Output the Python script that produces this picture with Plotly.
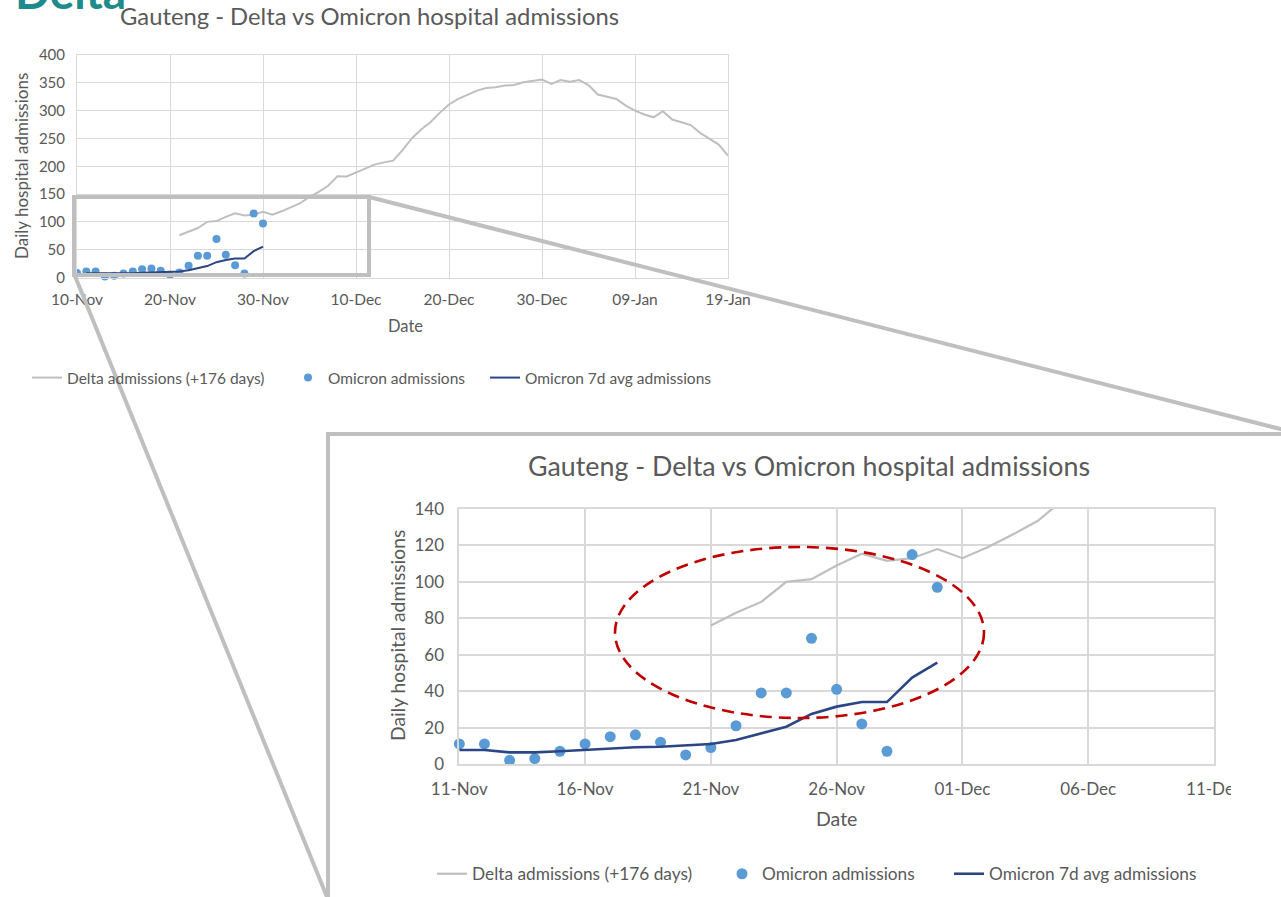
import pandas as pd
import plotly.graph_objects as go

W, H = 1281, 897

# Omicron daily hospital admissions, Gauteng
omicron_dates = pd.date_range("2021-11-10", "2021-11-30", freq="D")
omicron_daily = [8, 11, 11, 2, 3, 7, 11, 15, 16, 12, 5, 9, 21, 39, 39, 69, 41, 22, 7, 115, 97]

# Omicron 7-day average admissions
avg_dates = pd.date_range("2021-11-11", "2021-11-30", freq="D")
omicron_7d_avg = [7.7, 7.7, 6.4, 6.4, 7.0, 7.7, 8.6, 9.2, 9.5, 10.1, 11.0, 13.2,
                  16.8, 20.5, 27.5, 31.5, 34.0, 34.0, 47.4, 55.6]

# Delta wave admissions, shifted forward by 176 days
delta_dates = pd.date_range("2021-11-21", "2022-01-19", freq="D")
delta_shifted = [76, 83, 89, 100, 101.5, 109, 115.5, 111.5, 113, 118,
                 113, 119, 126, 133.5, 145, 154, 165, 182, 181.5, 189,
                 196, 203, 207, 210, 229, 250, 266, 279, 296, 311,
                 321, 329, 336, 340.5, 342, 345, 346, 351, 353.5, 356,
                 348, 355, 352, 355, 346, 329, 325, 321, 309, 300,
                 293, 288, 299, 284, 279, 274, 260, 250, 239, 219]

series_names = ["Delta admissions (+176 days)", "Omicron admissions", "Omicron 7d avg admissions"]
title_text = "Gauteng - Delta vs Omicron hospital admissions"

full_ticks = pd.date_range("2021-11-10", "2022-01-19", freq="10D")
zoom_ticks = pd.date_range("2021-11-11", "2021-12-11", freq="5D")
full_yticks = list(range(0, 401, 50))
zoom_yticks = list(range(0, 141, 20))

TEXT = "#595959"
GRID = "#d9d9d9"
GREY = "#bfbfbf"
DOT = "#5b9bd5"
NAVY = "#2b4585"
FONT = "Lato"


def fx(p):
    return p / W


def fy(p):
    return 1 - p / H


fig = go.Figure()

# overview chart (x, y) and magnified chart (x2, y2)
panels = [
    dict(xa="x", ya="y", legends=("legend2", "legend3", "legend4"),
         gw=2, dot=8, aw=2),
    dict(xa="x2", ya="y2", legends=("legend5", "legend6", "legend7"),
         gw=2.2, dot=11, aw=2.6),
]
for p in panels:
    fig.add_trace(go.Scatter(
        x=delta_dates, y=delta_shifted, mode="lines", name=series_names[0],
        line=dict(color=GREY, width=p["gw"]), xaxis=p["xa"], yaxis=p["ya"],
        legend=p["legends"][0], hoverinfo="skip"))
    fig.add_trace(go.Scatter(
        x=omicron_dates, y=omicron_daily, mode="markers", name=series_names[1],
        marker=dict(color=DOT, size=p["dot"]), cliponaxis=False,
        xaxis=p["xa"], yaxis=p["ya"], legend=p["legends"][1], hoverinfo="skip"))
    fig.add_trace(go.Scatter(
        x=avg_dates, y=omicron_7d_avg, mode="lines", name=series_names[2],
        line=dict(color=NAVY, width=p["aw"]), xaxis=p["xa"], yaxis=p["ya"],
        legend=p["legends"][2], hoverinfo="skip"))

axis_common = dict(showgrid=True, gridcolor=GRID, zeroline=False, showline=True,
                   linecolor=GRID, mirror=True, ticks="", fixedrange=True,
                   automargin=False)

fig.update_layout(
    template="none",
    width=W, height=H, autosize=False,
    margin=dict(l=0, r=0, t=0, b=0, autoexpand=False),
    paper_bgcolor="white", plot_bgcolor="white",
    font=dict(family=FONT, color=TEXT),
    showlegend=True,
    xaxis=dict(domain=[fx(77), fx(728)], type="date",
               range=["2021-11-10", "2022-01-19"], tickvals=full_ticks,
               tickformat="%d-%b", tickfont=dict(size=15.5, color=TEXT),
               ticklabelstandoff=8,
               gridwidth=1, linewidth=1, anchor="y", **axis_common),
    yaxis=dict(domain=[fy(277.5), fy(55)], range=[0, 400], tickvals=full_yticks,
               tickfont=dict(size=15, color=TEXT), ticklabelstandoff=8,
               gridwidth=1, linewidth=1, anchor="x", **axis_common),
    xaxis2=dict(domain=[fx(459.3), fx(1214)], type="date",
                range=["2021-11-11", "2021-12-11"], tickvals=zoom_ticks,
                tickformat="%d-%b", tickfont=dict(size=17, color=TEXT),
                ticklabelstandoff=9,
                gridwidth=1.6, linewidth=1.6, anchor="y2", **axis_common),
    yaxis2=dict(domain=[fy(764), fy(509)], range=[0, 140], tickvals=zoom_yticks,
                tickfont=dict(size=17, color=TEXT), ticklabelstandoff=10,
                gridwidth=1.6, linewidth=1.6, anchor="x2", **axis_common),
)

# one legend box per entry so each sits where it belongs under its chart
legend_spots = {
    "legend2": (27, 378, 15.5), "legend3": (288, 378, 15.5), "legend4": (485, 378, 15.5),
    "legend5": (432, 874, 17.3), "legend6": (722, 874, 17.3), "legend7": (949, 874, 17.3),
}
for key, (lx, ly, fs) in legend_spots.items():
    fig.update_layout({key: dict(x=fx(lx), y=fy(ly), xanchor="left", yanchor="middle",
                                 orientation="h", bgcolor="rgba(0,0,0,0)",
                                 borderwidth=0, font=dict(family=FONT, size=fs, color=TEXT))})

annotations = [
    dict(text="<b>Delta</b>", x=fx(13), y=fy(21), xanchor="left", yanchor="bottom",
         font=dict(family=FONT, size=46, color="#1f8a8c")),
    dict(text=title_text, x=fx(369), y=fy(16), xanchor="center", yanchor="middle",
         font=dict(family=FONT, size=23.8, color=TEXT)),
    dict(text=title_text, x=fx(809), y=fy(466), xanchor="center", yanchor="middle",
         font=dict(family=FONT, size=26.8, color=TEXT)),
    dict(text="Date", x=fx(405), y=fy(326), xanchor="center", yanchor="middle",
         font=dict(family=FONT, size=16.5, color=TEXT)),
    dict(text="Date", x=fx(837), y=fy(818), xanchor="center", yanchor="middle",
         font=dict(family=FONT, size=19.5, color=TEXT)),
    dict(text="Daily hospital admissions", x=fx(22), y=fy(166), textangle=-90,
         xanchor="center", yanchor="middle", font=dict(family=FONT, size=17, color=TEXT)),
    dict(text="Daily hospital admissions", x=fx(397), y=fy(636), textangle=-90,
         xanchor="center", yanchor="middle", font=dict(family=FONT, size=19.3, color=TEXT)),
]
for a in annotations:
    a.update(xref="paper", yref="paper", showarrow=False)
fig.update_layout(annotations=annotations)

frame = dict(color=GREY, width=4)
shapes = [
    # magnified region marker on the overview chart
    dict(type="rect", x0=fx(74), x1=fx(369), y0=fy(275), y1=fy(197), line=frame),
    # guide lines to the magnified panel
    dict(type="line", x0=fx(75), y0=fy(276), x1=fx(327), y1=fy(897), line=frame),
    dict(type="line", x0=fx(369), y0=fy(197), x1=fx(1300), y1=fy(434), line=frame),
    # magnified panel frame
    dict(type="rect", x0=fx(328), x1=fx(1300), y0=fy(910), y1=fy(434), line=frame),
    # panel edge trims the last date label
    dict(type="rect", x0=fx(1231), x1=fx(1300), y0=fy(897), y1=fy(440),
         line=dict(width=0), fillcolor="white"),
    # highlighted region
    dict(type="circle", x0=fx(615), x1=fx(984), y0=fy(718), y1=fy(547),
         line=dict(color="#c00000", width=2.6, dash="12px,7px")),
]
for s in shapes:
    s.update(xref="paper", yref="paper", layer="above")
fig.update_layout(shapes=shapes)

fig.write_html("out.html")
